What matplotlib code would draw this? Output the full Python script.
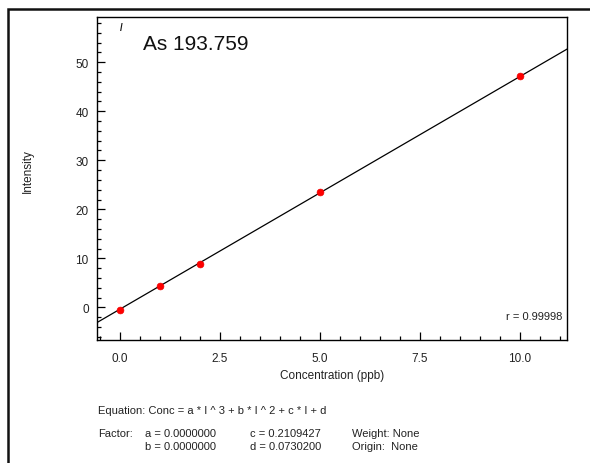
import matplotlib
matplotlib.use("Agg")
import matplotlib.pyplot as plt
from matplotlib.patches import Rectangle
from matplotlib.ticker import MultipleLocator, FixedLocator
import numpy as np

plt.rcParams['font.family'] = ['Liberation Sans', 'DejaVu Sans']

# Data
conc = [0.0, 1.0, 2.0, 5.0, 10.0]
intensity = [-0.45, 4.45, 8.93, 23.6, 47.2]
coef_c = 0.2109427
coef_d = 0.0730200
x_ticks = [0.0, 2.5, 5.0, 7.5, 10.0]
x_tick_labels = ["0.0", "2.5", "5.0", "7.5", "10.0"]
y_ticks = [0, 10, 20, 30, 40, 50]
title = "As 193.759"
r_text = "r = 0.99998"

W, H = 590, 464
fig = plt.figure(figsize=(W / 100, H / 100), dpi=100)

# outer frame
fig.patches.append(Rectangle((8 / W, -0.1), 1.2, 1 - 10 / H + 0.1,
                             transform=fig.transFigure, fill=False,
                             edgecolor='#111111', linewidth=1.8))

ax = fig.add_axes([97 / W, 1 - 341 / H, 470 / W, 323 / H])
xlim = (-0.575, 11.18)
ylim = (-6.63, 59.2)
ax.set_xlim(*xlim)
ax.set_ylim(*ylim)

# fitted line: Conc = c*I + d -> I = (Conc - d)/c
xl = np.array(xlim)
ax.plot(xl, (xl - coef_d) / coef_c, color='black', linewidth=0.9, zorder=2)
ax.scatter(conc, intensity, s=24, color='#ff0000', edgecolors='#ee0000',
           linewidths=0.5, zorder=3)

ax.xaxis.set_major_locator(FixedLocator(x_ticks))
ax.set_xticklabels(x_tick_labels)
ax.xaxis.set_minor_locator(MultipleLocator(0.5))
ax.yaxis.set_major_locator(FixedLocator(y_ticks))
ax.yaxis.set_minor_locator(MultipleLocator(2))
ax.tick_params(which='both', direction='in', width=0.9, colors='black',
               labelsize=8.5, labelcolor='#222222')
ax.tick_params(which='major', length=6)
ax.tick_params(which='minor', length=3)
ax.tick_params(axis='x', pad=9)
ax.tick_params(axis='y', pad=6)
for s in ax.spines.values():
    s.set_linewidth(1.0)
    s.set_color('black')

ax.set_xlabel("Concentration (ppb)", fontsize=8.5, color='#222222', labelpad=3)
fig.text(28 / W, 1 - 171.5 / H, "Intensity", rotation=90, fontsize=8.5,
         color='#222222', ha='center', va='center')

fig.text(143 / W, 1 - 44 / H, title, fontsize=15, color='#111111',
         ha='left', va='center')
fig.text(121.5 / W, 1 - 28 / H, "/", fontsize=7, color='#111111',
         ha='center', va='center', fontweight='bold')
fig.text(562 / W, 1 - 317 / H, r_text, fontsize=8, color='#222222',
         ha='right', va='center')

fs = 8
fig.text(98.5 / W, 1 - 411 / H, "Equation: Conc = a * I ^ 3 + b * I ^ 2 + c * I + d",
         fontsize=fs, color='#222222', ha='left', va='center')
fig.text(98.5 / W, 1 - 434 / H, "Factor:", fontsize=fs, color='#222222', ha='left', va='center')
fig.text(145 / W, 1 - 434 / H, "a = 0.0000000", fontsize=fs, color='#222222', ha='left', va='center')
fig.text(145 / W, 1 - 447 / H, "b = 0.0000000", fontsize=fs, color='#222222', ha='left', va='center')
fig.text(250 / W, 1 - 434 / H, "c = 0.2109427", fontsize=fs, color='#222222', ha='left', va='center')
fig.text(250 / W, 1 - 447 / H, "d = 0.0730200", fontsize=fs, color='#222222', ha='left', va='center')
fig.text(351.5 / W, 1 - 434 / H, "Weight: None", fontsize=fs, color='#222222', ha='left', va='center')
fig.text(351.5 / W, 1 - 447 / H, "Origin:  None", fontsize=fs, color='#222222', ha='left', va='center')

fig.savefig("out.png", dpi=100)
